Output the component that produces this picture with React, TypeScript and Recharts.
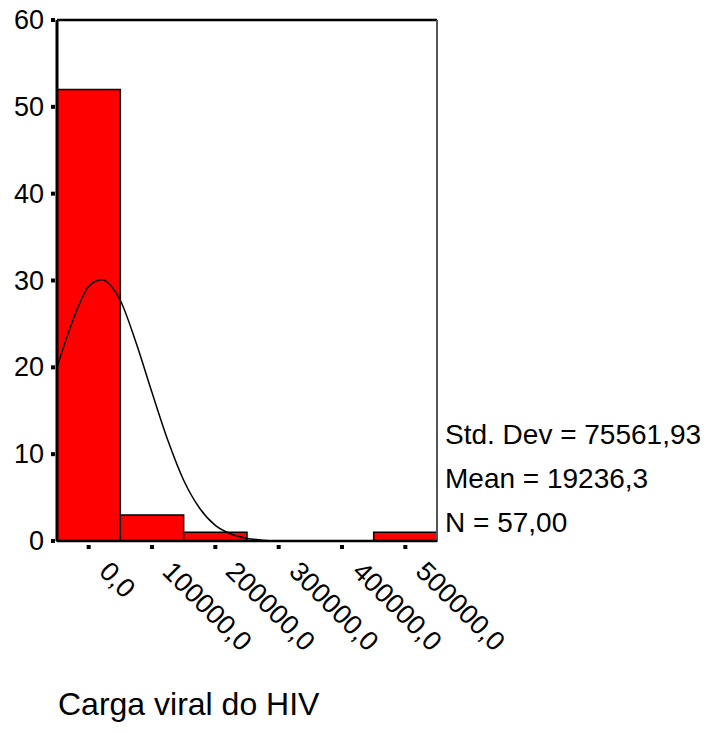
import React from 'react'
import { Bar, ComposedChart, Line, ReferenceLine, XAxis, YAxis } from 'recharts'

// histogram bins, one per 100000 of viral load
const binCenters = [0, 100000, 200000, 300000, 400000, 500000]
const binCounts = [52, 3, 1, 0, 0, 1]

// fitted normal curve
const curveX = [
  -50000, -25000, 0, 20000, 50000, 75000, 100000, 125000, 150000, 175000, 200000, 225000, 250000,
  275000, 300000,
]
const curveY = [20.0, 25.4, 29.3, 30.1, 27.7, 22.8, 17.1, 11.6, 7.0, 3.8, 1.8, 0.8, 0.3, 0.1, 0.0]

const xTicks = [0, 100000, 200000, 300000, 400000, 500000]
const xTickLabels = ['0,0', '100000,0', '200000,0', '300000,0', '400000,0', '500000,0']
const yTicks = [0, 10, 20, 30, 40, 50, 60]

const statLines = ['Std. Dev = 75561,93', 'Mean = 19236,3', 'N = 57,00']
const title = 'Carga viral do HIV'

const FONT = '"Liberation Sans", Arial, sans-serif'
const X_DOMAIN: [number, number] = [-50000, 550000]

const bins = binCenters.map((x, i) => ({ x, count: binCounts[i] }))
const curve = curveX.map((x, i) => ({ x, curve: curveY[i] }))

function XTick(props: any) {
  const { x, y, payload } = props
  const i = xTicks.indexOf(payload.value)
  return (
    <g>
      <rect x={x - 2} y={y + 4} width={4} height={4} fill="#000" />
      <text
        transform={`translate(${x + 9},${y + 32}) rotate(45)`}
        fontSize={27}
        fontFamily={FONT}
        fill="#000"
        textAnchor="start"
      >
        {xTickLabels[i]}
      </text>
    </g>
  )
}

function YTick(props: any) {
  const { x, y, payload } = props
  return (
    <g>
      <rect x={x - 6} y={y - 2} width={4} height={4} fill="#000" />
      <text
        x={x - 13}
        y={y}
        fontSize={27}
        fontFamily={FONT}
        fill="#000"
        textAnchor="end"
        dominantBaseline="central"
      >
        {payload.value}
      </text>
    </g>
  )
}

export default function App() {
  return (
    <div style={{ position: 'absolute', left: 0, top: 0, width: 708, height: 732, background: '#fff' }}>
      <ComposedChart
        width={708}
        height={732}
        data={bins}
        margin={{ top: 20, right: 271, bottom: 0, left: 0 }}
      >
        <XAxis
          dataKey="x"
          type="number"
          domain={X_DOMAIN}
          ticks={xTicks}
          tick={<XTick />}
          tickLine={false}
          tickSize={0}
          tickMargin={0}
          height={191}
          axisLine={{ stroke: '#000', strokeWidth: 2.5 }}
          interval={0}
        />
        {/* the curve gets its own hidden x axis so its dense points don't shrink the bars */}
        <XAxis xAxisId="curve" dataKey="x" type="number" domain={X_DOMAIN} hide />
        <YAxis
          type="number"
          domain={[0, 60]}
          ticks={yTicks}
          tick={<YTick />}
          tickLine={false}
          tickSize={0}
          tickMargin={0}
          width={57}
          axisLine={{ stroke: '#000', strokeWidth: 3 }}
          interval={0}
        />
        {/* the frame: top and right edges of the plot box */}
        <ReferenceLine y={60} stroke="#000" strokeWidth={2.5} />
        <ReferenceLine x={550000} stroke="#555" strokeWidth={2} />
        <Bar
          dataKey="count"
          barSize={63.33}
          fill="#ff0000"
          stroke="#000"
          strokeWidth={1.5}
          isAnimationActive={false}
        />
        <Line
          xAxisId="curve"
          data={curve}
          dataKey="curve"
          type="monotone"
          stroke="#000"
          strokeWidth={1.5}
          dot={false}
          activeDot={false}
          isAnimationActive={false}
        />
      </ComposedChart>
      <svg
        width={708}
        height={732}
        style={{ position: 'absolute', left: 0, top: 0, pointerEvents: 'none' }}
      >
        {statLines.map((s, i) => (
          <text key={s} x={445} y={444 + i * 44} fontSize={28} fontFamily={FONT} fill="#000">
            {s}
          </text>
        ))}
        <text x={58} y={715} fontSize={32} fontFamily={FONT} fill="#000">
          {title}
        </text>
      </svg>
    </div>
  )
}
